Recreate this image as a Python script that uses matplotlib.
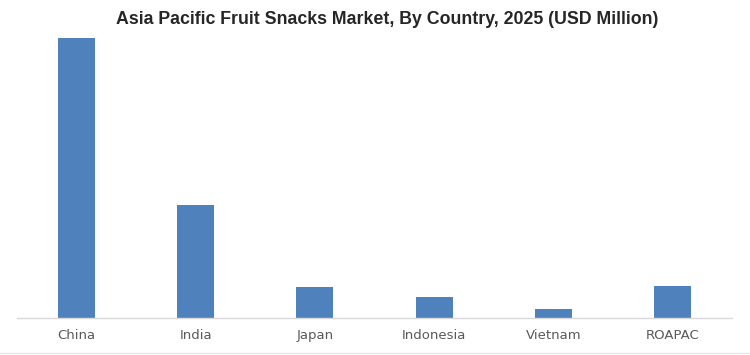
import matplotlib
matplotlib.use("Agg")
import matplotlib.pyplot as plt
from matplotlib.lines import Line2D

# 数据（USD Million，按图估读）
countries = ["China", "India", "Japan", "Indonesia", "Vietnam", "ROAPAC"]
values = [1410, 570, 156, 106, 45, 161]

BAR_COLOR = "#4F81BD"
W, H = 750, 355

fig = plt.figure(figsize=(W / 100, H / 100), dpi=100)
fig.patch.set_facecolor("white")

# 坐标区（像素换算）
left, right, bottom, top = 17, 732, 318, 38
ax = fig.add_axes([left / W, 1 - bottom / H, (right - left) / W, (bottom - top) / H])

x = range(len(countries))
ax.bar(x, values, width=0.31, color=BAR_COLOR, zorder=2)

ax.set_xlim(-0.5, len(countries) - 0.5)
ax.set_ylim(0, max(values))
ax.set_xticks(list(x))
ax.set_xticklabels(countries, fontsize=9.5, color="#595959", family="DejaVu Sans")
ax.tick_params(axis="x", length=0, pad=8)
ax.set_yticks([])
for side in ("left", "right", "top"):
    ax.spines[side].set_visible(False)
ax.spines["bottom"].set_color("#D9D9D9")
ax.spines["bottom"].set_linewidth(1)

fig.text(387 / W, 1 - 19 / H,
         "Asia Pacific Fruit Snacks Market, By Country, 2025 (USD Million)",
         ha="center", va="center", fontsize=12.8, fontweight="bold",
         color="#262626", family="Liberation Sans")

# 底部边框线
fig.add_artist(Line2D([0, 1], [1 - 352.5 / H] * 2, color="#E6E6E6", linewidth=1,
                      transform=fig.transFigure))

fig.savefig("out.png", dpi=100, facecolor="white")
plt.close(fig)
